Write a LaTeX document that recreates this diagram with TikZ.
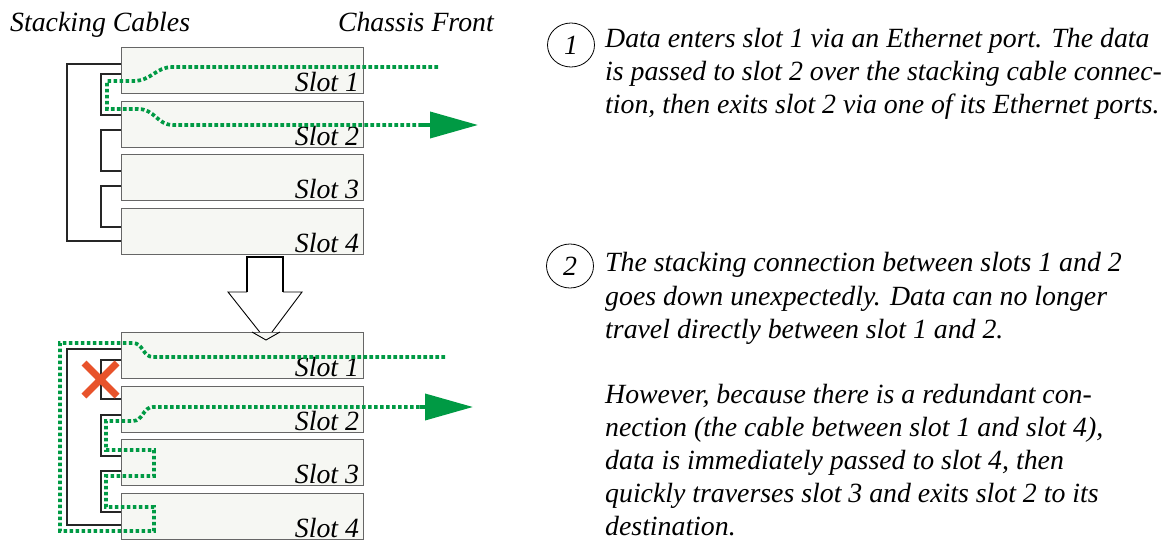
\documentclass[tikz,border=0pt]{standalone}
\usepackage{fontspec}
\setmainfont{Liberation Serif}[ItalicFont={Liberation Serif Italic}]
\newfontfamily\tnr{Liberation Serif Italic}
\usetikzlibrary{shapes.geometric,arrows.meta}
\definecolor{gr}{RGB}{0,154,68}
\definecolor{slotfill}{RGB}{246,247,243}
\definecolor{xred}{RGB}{232,83,43}
\begin{document}
\begin{tikzpicture}[x=1pt,y=-1pt,
  slotbox/.style={draw=black!60, line width=1.2pt, fill=slotfill, minimum width=242pt, minimum height=46pt, inner sep=0pt, anchor=north west},
  lbl/.style={font=\tnr\fontsize{27.8}{33}\selectfont, inner sep=0pt},
  txt/.style={font=\tnr\fontsize{27.8}{33}\selectfont, inner sep=0pt, anchor=base west},
  cable/.style={draw=black!85, line width=2.8pt, line join=miter},
  data/.style={draw=gr, line width=3.7pt, dash pattern=on 3.6pt off 2.4pt},
  tipA/.style={-{Triangle[length=48pt,width=26pt]}},
  numc/.style={draw, ellipse, line width=0.8pt, minimum width=47pt, minimum height=44pt, inner sep=0pt, font=\tnr\fontsize{27.8}{33}\selectfont},
  bigarrow/.style={draw=black, line width=0.9pt}
]
\useasboundingbox (0,0) rectangle (1170,540);

% headers
\node[lbl, anchor=base west] (hsc) at (10,32) {Stacking Cables};
\node[lbl, anchor=base east] (hcf) at (494,32) {Chassis Front};

% ---------- top chassis ----------
\node[slotbox] (a1) at (121,47) {};
\node[slotbox] (a2) at (121,101) {};
\node[slotbox] (a3) at (121,154) {};
\node[slotbox] (a4) at (121,208) {};
\foreach \s/\n in {a1/1,a2/2,a3/3,a4/4}
  \node[lbl, anchor=base east] (\s l) at ([xshift=-5pt,yshift=2.5pt]\s.south east) {Slot \n};

\draw[cable] (121,64) -- (67,64) -- (67,241) -- (121,241);
\draw[cable] (121,74) -- (101,74) -- (101,115) -- (121,115);
\draw[cable] (121,130) -- (101,130) -- (101,171) -- (121,171);
\draw[cable] (121,186) -- (101,186) -- (101,227) -- (121,227);

\coordinate (ain) at (438,67);
\coordinate (aout) at (478,125);
\draw[data] (ain) -- (173,67) .. controls (155,67) and (152,81) .. (133,81) -- (107,81) -- (107,109) -- (138,109) .. controls (155,109) and (157,125) .. (173,125) -- (430,125);
\draw[data, tipA, dash pattern=] (420,125) -- (aout);

% ---------- big arrow ----------
\draw[bigarrow] (247,292) -- (228,292) -- (266,340) -- (302,292) -- (283,292);
\draw[black, line width=2pt] (247,292) -- (247,257) -- (283,257) -- (283,292);

% ---------- bottom chassis ----------
\node[slotbox] (b1) at (121,332) {};
\node[slotbox] (b2) at (121,386) {};
\node[slotbox] (b3) at (121,439) {};
\node[slotbox] (b4) at (121,493) {};
\foreach \s/\n in {b1/1,b2/2,b3/3,b4/4}
  \node[lbl, anchor=base east] (\s l) at ([xshift=-5pt,yshift=2.5pt]\s.south east) {Slot \n};

% arrow tip over slot 1 (outline only)
\draw[bigarrow] (252,332) -- (266,340) -- (280,332);

\draw[cable] (121,349) -- (67,349) -- (67,525) -- (121,525);
\draw[cable] (121,360) -- (101,360) -- (101,399) -- (121,399);
\draw[cable] (121,415) -- (101,415) -- (101,456) -- (121,456);
\draw[cable] (121,471) -- (101,471) -- (101,512) -- (121,512);

\coordinate (bin) at (445,357);
\coordinate (bout) at (473,407);
\draw[data] (bin) -- (153,357) .. controls (143,357) and (143,343) .. (133,343) -- (60,343) -- (60,531) -- (154,531) -- (154,507) -- (106,507) -- (106,476) -- (154,476) -- (154,450) -- (106,450) -- (106,421) -- (133,421) .. controls (143,421) and (143,407) .. (153,407) -- (430,407);
\draw[data, tipA, dash pattern=] (420,407) -- (bout);

% red X
\draw[xred, line width=7pt] (84,363) -- (117,396) (84,396) -- (117,363);

% ---------- right-hand text ----------
\node[numc] (c1) at (571,45) {1};
\node[txt] (t11) at (605,48) {Data enters slot 1 via an Ethernet port. The data};
\node[txt] (t12) at (605,81) {is passed to slot 2 over the stacking cable connec-};
\node[txt] (t13) at (605,114) {tion, then exits slot 2 via one of its Ethernet ports.};

\node[numc] (c2) at (570,266) {2};
\node[txt] (t21) at (605,272) {The stacking connection between slots 1 and 2};
\node[txt] (t22) at (605,305) {goes down unexpectedly. Data can no longer};
\node[txt] (t23) at (605,338) {travel directly between slot 1 and 2.};
\node[txt] (t24) at (605,403) {However, because there is a redundant con-};
\node[txt] (t25) at (605,436) {nection (the cable between slot 1 and slot 4),};
\node[txt] (t26) at (605,469) {data is immediately passed to slot 4, then};
\node[txt] (t27) at (605,502) {quickly traverses slot 3 and exits slot 2 to its};
\node[txt] (t28) at (605,535) {destination.};
\end{tikzpicture}
\end{document}
